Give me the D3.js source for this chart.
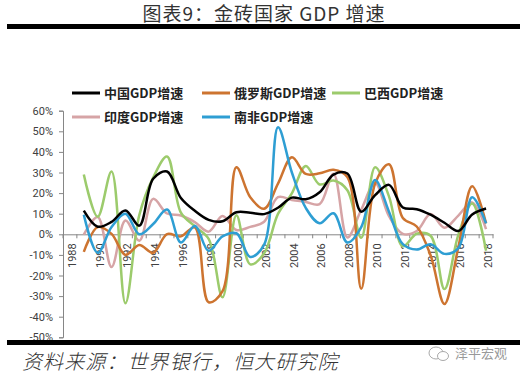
<!DOCTYPE html>
<html lang="zh">
<head>
    <meta charset="UTF-8">
    <title>金砖国家 GDP 增速</title>
    <script src="https://d3js.org/d3.v7.min.js"></script>
    <style>
        body {
            margin: 0;
            background: #fff;
        }
    </style>
</head>
<body>
    <div id="chart"></div>

    <script>
        // 年份 1989-2018
        const years = d3.range(1989, 2019);
        const axisYears = d3.range(1988, 2019);

        // 各国 GDP 增速 (%)
        const china  = [11.5, 3.7, 6.0, 11.6, 4.2, 27.0, 30.5, 17.6, 11.4, 7.0, 6.3, 10.7, 10.5, 9.8, 12.9, 17.8, 17.0, 20.4, 29.0, 29.5, 11.0, 19.0, 24.0, 13.0, 12.2, 9.5, 5.6, 1.6, 9.6, 12.5];
        const russia = [-8.5, 3.5, 0.2, -10.0, -5.2, -9.0, 0.1, -1.0, 3.4, -33.0, -27.6, 32.6, 18.0, 12.4, 24.6, 37.4, 29.3, 29.6, 31.3, 27.8, -26.4, 24.7, 34.0, 7.9, 3.8, -10.2, -33.8, -6.3, 23.3, 5.3];
        const brazil = [29.0, 8.5, 30.5, -33.5, 9.3, 27.5, 37.8, 10.5, 3.9, -2.2, -30.6, 9.3, -14.6, -9.2, 9.9, 19.9, 33.2, 24.2, 26.1, 21.4, -1.7, 32.5, 18.4, -5.8, 0.3, -0.7, -26.6, -0.3, 14.9, -8.0];
        const india  = [-0.2, 8.4, -15.9, 6.7, -3.1, 17.2, 10.1, 9.1, 5.9, 1.3, 8.9, 2.1, 3.6, 6.1, 18.0, 16.7, 15.7, 14.6, 29.4, -1.5, 11.9, 24.9, 8.8, 0.2, 1.6, 9.8, 3.2, 9.1, 15.5, 2.5];
        const safrica = [9.5, -9.0, 3.5, 10.0, 0.0, 5.0, 12.0, -4.0, 4.0, -8.0, -1.0, 0.5, -11.0, -5.0, 52.0, 30.0, 12.8, 5.4, 10.2, -4.0, 3.5, 26.3, 11.0, -4.8, -7.4, -4.8, -9.5, -6.7, 18.0, 5.3];

        const yTicks = d3.range(-50, 61, 10);

        // 系列: 绘制顺序
        const series = [
            { name: "中国GDP增速", values: china, color: "#000000" },
            { name: "俄罗斯GDP增速", values: russia, color: "#CD7430" },
            { name: "巴西GDP增速", values: brazil, color: "#9CCB6C" },
            { name: "印度GDP增速", values: india, color: "#D6A4A6" },
            { name: "南非GDP增速", values: safrica, color: "#2E9ED3" }
        ];
        const drawOrder = [3, 2, 1, 4, 0];

        const W = 524, H = 375;
        const svg = d3.select("#chart")
            .append("svg")
            .attr("width", W)
            .attr("height", H);

        // 标题
        svg.append("text")
            .attr("x", 264)
            .attr("y", 21)
            .attr("text-anchor", "middle")
            .attr("font-family", "'Noto Sans CJK SC', sans-serif")
            .attr("font-size", 19)
            .attr("letter-spacing", 1)
            .attr("fill", "#333")
            .text("图表9：金砖国家 GDP 增速");

        svg.append("rect")
            .attr("x", 7).attr("y", 24)
            .attr("width", 513).attr("height", 5)
            .attr("fill", "#000");

        // 比例尺
        const x = d3.scaleBand()
            .domain(axisYears)
            .range([63, 493]);
        const xc = d => x(d) + x.bandwidth() / 2;

        const y = d3.scaleLinear()
            .domain([-50, 60])
            .range([337.3, 110.7]);

        // Y 轴
        const yAxis = svg.append("g")
            .attr("transform", "translate(63,0)")
            .call(d3.axisLeft(y)
                .tickValues(yTicks)
                .tickSize(4)
                .tickPadding(6)
                .tickFormat(d => d + "%"));
        yAxis.select(".domain").attr("stroke", "#868686");
        yAxis.selectAll(".tick line").attr("stroke", "#868686");
        yAxis.selectAll("text")
            .attr("font-family", "Roboto, sans-serif")
            .attr("font-size", 11)
            .attr("fill", "#404040");

        // X 轴 (在 0% 处)
        const xAxis = svg.append("g")
            .attr("transform", `translate(0,${y(0)})`)
            .call(d3.axisBottom(x)
                .tickValues(axisYears.filter(d => d % 2 === 0))
                .tickSize(0)
                .tickSizeOuter(0));
        xAxis.select(".domain").attr("stroke", "#868686");
        xAxis.selectAll("text")
            .attr("font-family", "Roboto, sans-serif")
            .attr("font-size", 11)
            .attr("fill", "#404040")
            .attr("text-anchor", "end")
            .attr("transform", "translate(2,0) rotate(-90) translate(-9,0)")
            .attr("x", 0)
            .attr("y", 0)
            .attr("dy", "0.35em");

        // 类别之间的刻度线
        xAxis.selectAll(".sep")
            .data(axisYears.map(d => x(d)).concat([x.range()[1]]))
            .join("line")
            .attr("class", "sep")
            .attr("x1", d => d).attr("x2", d => d)
            .attr("y1", 0).attr("y2", 4)
            .attr("stroke", "#868686");

        // 折线
        const line = d3.line()
            .x((d, i) => xc(years[i]))
            .y(d => y(d))
            .curve(d3.curveCatmullRom.alpha(0.5));

        drawOrder.forEach(k => {
            const s = series[k];
            svg.append("path")
                .datum(s.values)
                .attr("d", line)
                .attr("fill", "none")
                .attr("stroke", s.color)
                .attr("stroke-width", 2.5);
        });

        // 图例
        const legendPos = [
            [72, 93], [202, 93], [332, 93],
            [72, 117], [202, 117]
        ];
        series.forEach((s, i) => {
            const [lx, ly] = legendPos[i];
            svg.append("line")
                .attr("x1", lx).attr("x2", lx + 28)
                .attr("y1", ly).attr("y2", ly)
                .attr("stroke", s.color)
                .attr("stroke-width", 3);
            svg.append("text")
                .attr("x", lx + 32)
                .attr("y", ly)
                .attr("dy", "0.36em")
                .attr("font-family", "'Noto Sans CJK SC', sans-serif")
                .attr("font-size", 13)
                .attr("font-weight", "bold")
                .attr("fill", "#222")
                .text(s.name);
        });

        // 底部
        svg.append("rect")
            .attr("x", 7).attr("y", 340)
            .attr("width", 513).attr("height", 5)
            .attr("fill", "#000");

        svg.append("text")
            .attr("x", 22)
            .attr("y", 369)
            .attr("font-family", "'Noto Sans CJK SC', sans-serif")
            .attr("font-size", 20)
            .attr("font-weight", 300)
            .attr("font-style", "italic")
            .attr("letter-spacing", 1.1)
            .attr("fill", "#333")
            .text("资料来源：世界银行，恒大研究院");

        // 水印
        const wm = svg.append("g").attr("transform", "translate(436,353)");
        wm.append("ellipse")
            .attr("cx", 0).attr("cy", 0).attr("rx", 7).attr("ry", 6)
            .attr("fill", "none").attr("stroke", "#aaa").attr("stroke-width", 1);
        wm.append("ellipse")
            .attr("cx", 7).attr("cy", 3).attr("rx", 5.5).attr("ry", 4.5)
            .attr("fill", "#fff").attr("stroke", "#aaa").attr("stroke-width", 1);
        svg.append("text")
            .attr("x", 455)
            .attr("y", 358)
            .attr("font-family", "'Noto Sans CJK SC', sans-serif")
            .attr("font-size", 13)
            .attr("fill", "#999")
            .text("泽平宏观");
    </script>
</body>
</html>
